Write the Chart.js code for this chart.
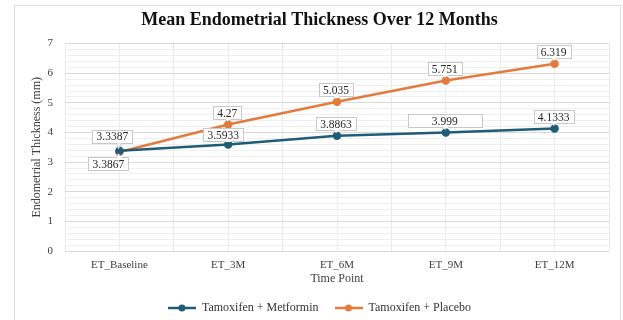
<!DOCTYPE html>
<html>
<head>
<meta charset="utf-8">
<script src="https://cdn.jsdelivr.net/npm/chart.js@4.4.1/dist/chart.umd.min.js"></script>
<style>
  body { margin: 0; background: #fff; }
  #wrap { position: relative; width: 623px; height: 320px; }
</style>
</head>
<body>
<div id="wrap"><canvas id="etChart" width="623" height="320"></canvas></div>
<script>
const timePoints = ['ET_Baseline', 'ET_3M', 'ET_6M', 'ET_9M', 'ET_12M'];
const metforminValues = [3.3867, 3.5933, 3.8863, 3.999, 4.1333];
const placeboValues = [3.3387, 4.27, 5.035, 5.751, 6.319];
const yTicks = [0, 1, 2, 3, 4, 5, 6, 7];

const blue = '#1f5c77';
const orange = '#e47a3c';
const serif = "'Liberation Serif', 'Times New Roman', serif";

// label box placement relative to its point (style only)
const labelPlacement = [
  [{ dx: -11, dy: 13 }, { dx: -5, dy: -10 }, {}, { w: 74 }, {}],
  [{ dx: -7, dy: -16 }, {}, {}, {}, {}]
];

function legendIcon(color) {
  const c = document.createElement('canvas');
  c.width = 28; c.height = 8;
  const g = c.getContext('2d');
  g.strokeStyle = color;
  g.lineWidth = 2.5;
  g.beginPath(); g.moveTo(0, 4); g.lineTo(28, 4); g.stroke();
  g.fillStyle = color;
  g.beginPath(); g.arc(14, 4, 3.5, 0, Math.PI * 2); g.fill();
  return c;
}

const framePlugin = {
  id: 'frame',
  beforeDraw(chart) {
    const ctx = chart.ctx;
    ctx.save();
    ctx.fillStyle = '#fff';
    ctx.fillRect(0, 0, chart.width, chart.height);
    ctx.strokeStyle = '#dcdcdc';
    ctx.lineWidth = 1;
    ctx.strokeRect(14.5, 5.5, 606, 330);
    ctx.restore();
  }
};

const valueLabels = {
  id: 'valueLabels',
  afterDatasetsDraw(chart) {
    const ctx = chart.ctx;
    ctx.save();
    ctx.font = '11.5px ' + serif;
    ctx.textAlign = 'center';
    ctx.textBaseline = 'middle';
    chart.data.datasets.forEach((ds, di) => {
      const meta = chart.getDatasetMeta(di);
      meta.data.forEach((pt, i) => {
        const p = Object.assign({ dx: -1, dy: -12 }, labelPlacement[di][i] || {});
        const text = String(ds.data[i]);
        const w = p.w || Math.round(ctx.measureText(text).width) + 8;
        const h = 13;
        const cx = pt.x + p.dx, cy = pt.y + p.dy;
        const left = cx - w / 2, top = cy - h / 2;
        // pointer
        const edgeY = p.dy < 0 ? top + h : top;
        const baseX = Math.min(Math.max(pt.x, left + 4), left + w - 4);
        ctx.fillStyle = '#fff';
        ctx.strokeStyle = '#c8c8c8';
        ctx.lineWidth = 1;
        ctx.beginPath();
        ctx.moveTo(baseX - 3, edgeY);
        ctx.lineTo(pt.x - 1, pt.y + (p.dy < 0 ? -3 : 3));
        ctx.lineTo(baseX + 2, edgeY);
        ctx.closePath();
        ctx.fill();
        ctx.stroke();
        ctx.fillRect(left, top, w, h);
        ctx.strokeRect(Math.round(left) + 0.5, Math.round(top) + 0.5, w, h);
        ctx.fillStyle = '#fff';
        ctx.fillRect(baseX - 2.5, edgeY - 1, 4.5, 2);
        ctx.fillStyle = '#262626';
        ctx.fillText(text, cx, cy + 1);
      });
    });
    ctx.restore();
  }
};

new Chart(document.getElementById('etChart'), {
  type: 'line',
  data: {
    labels: timePoints,
    datasets: [
      {
        label: 'Tamoxifen + Metformin',
        data: metforminValues,
        borderColor: blue,
        backgroundColor: blue,
        borderWidth: 2.5,
        pointRadius: 3,
        pointStyle: 'circle'
      },
      {
        label: 'Tamoxifen + Placebo',
        data: placeboValues,
        borderColor: orange,
        backgroundColor: orange,
        borderWidth: 2.5,
        pointRadius: 3,
        pointStyle: 'circle'
      }
    ]
  },
  options: {
    responsive: false,
    animation: false,
    layout: { padding: { left: 30, right: 14, top: 0, bottom: -4 } },
    plugins: {
      title: {
        display: true,
        text: 'Mean Endometrial Thickness Over 12 Months',
        color: '#111',
        font: { family: serif, size: 18, weight: 'bold' },
        padding: { top: 10, bottom: 12 }
      },
      legend: {
        position: 'bottom',
        labels: {
          usePointStyle: true,
          pointStyleWidth: 28,
          generateLabels(chart) {
            return chart.data.datasets.map((ds, i) => ({
              text: ds.label,
              pointStyle: legendIcon(ds.borderColor),
              fontColor: '#333',
              strokeStyle: 'transparent',
              lineWidth: 0,
              datasetIndex: i
            }));
          },
          color: '#333',
          font: { family: serif, size: 12 },
          padding: 16
        }
      },
      tooltip: { enabled: false }
    },
    scales: {
      x: {
        type: 'category',
        offset: true,
        grid: { offset: true, color: '#e8e8e8', drawTicks: false },
        border: { display: false },
        ticks: { color: '#404040', font: { family: serif, size: 11 }, padding: 8 },
        title: {
          display: true,
          text: 'Time Point',
          color: '#404040',
          font: { family: serif, size: 12 },
          padding: { top: 2, bottom: 0 }
        },
        afterFit(scale) { scale.height = 35; }
      },
      x2: {
        type: 'category',
        position: 'bottom',
        offset: true,
        grid: { offset: false, color: '#ececec', drawTicks: false },
        border: { display: false },
        ticks: { display: false },
        afterFit(scale) { scale.height = 0; }
      },
      y: {
        min: 0,
        max: 7,
        afterBuildTicks(scale) {
          const ticks = [];
          for (let k = 0; k <= yTicks[yTicks.length - 1] * 5; k++) ticks.push({ value: k / 5 });
          scale.ticks = ticks;
        },
        afterFit(scale) { scale.width = 35; },
        grid: {
          drawTicks: false,
          color(ctx) {
            const v = ctx.tick ? ctx.tick.value : 0;
            return Math.abs(v - Math.round(v)) < 1e-6 ? '#d9d9d9' : '#efefef';
          }
        },
        border: { display: false },
        ticks: {
          color: '#404040',
          font: { family: serif, size: 11 },
          padding: 12,
          autoSkip: false,
          callback(v) {
            return yTicks.includes(Math.round(v)) && Math.abs(v - Math.round(v)) < 1e-6 ? Math.round(v) : '';
          }
        },
        title: {
          display: true,
          text: 'Endometrial Thickness (mm)',
          color: '#404040',
          font: { family: serif, size: 12 },
          padding: { top: 0, bottom: 0 }
        }
      }
    }
  },
  plugins: [framePlugin, valueLabels]
});
</script>
</body>
</html>
